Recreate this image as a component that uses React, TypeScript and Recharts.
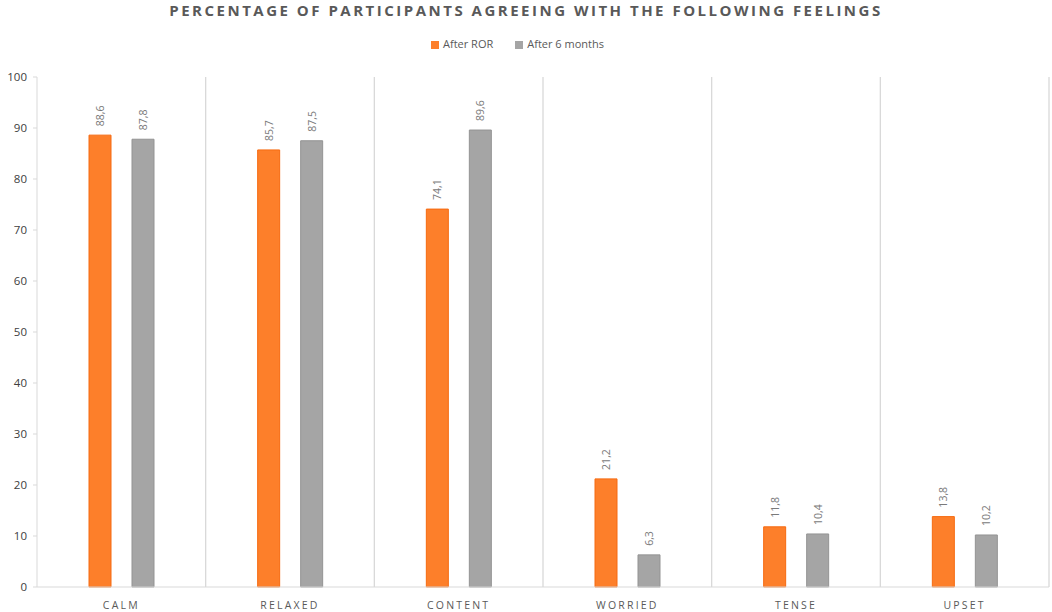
import {
  BarChart,
  Bar,
  XAxis,
  YAxis,
  Legend,
  LabelList,
  ReferenceLine,
} from "recharts";

const feelings = ["CALM", "RELAXED", "CONTENT", "WORRIED", "TENSE", "UPSET"];
const afterRor = [88.6, 85.7, 74.1, 21.2, 11.8, 13.8];
const afterSixMonths = [87.8, 87.5, 89.6, 6.3, 10.4, 10.2];
const yTicks = [0, 10, 20, 30, 40, 50, 60, 70, 80, 90, 100];

const data = feelings.map((name, i) => ({
  name,
  s1: afterRor[i],
  s2: afterSixMonths[i],
}));

const FONT = "'Open Sans', sans-serif";
const TEXT = "#595959";
const GRID = "#d9d9d9";

const fmt = (v: number) => v.toFixed(1).replace(".", ",");

function RotatedLabel(props: any) {
  const { x, y, width, value } = props;
  const cx = x + width / 2 + 4;
  const cy = y - 9;
  return (
    <text
      x={cx}
      y={cy}
      transform={`rotate(-90 ${cx} ${cy})`}
      textAnchor="start"
      fontSize={10.5}
      fontFamily={FONT}
      fill="#7a7a7a"
    >
      {fmt(value)}
    </text>
  );
}

function CategoryTick(props: any) {
  const { x, y, payload } = props;
  return (
    <text
      x={x}
      y={y + 14}
      textAnchor="middle"
      fontSize={10.5}
      fontFamily={FONT}
      fill={TEXT}
      letterSpacing={2.2}
    >
      {payload.value}
    </text>
  );
}

export default function App() {
  return (
    <div style={{ position: "absolute", left: 0, top: 0, width: 1052, height: 612, background: "#fff" }}>
      <div
        style={{
          position: "absolute",
          top: 0,
          left: 0,
          width: 1052,
          textAlign: "center",
          fontFamily: FONT,
          fontWeight: 700,
          fontSize: 15,
          letterSpacing: 2.5,
          color: TEXT,
        }}
      >
        PERCENTAGE OF PARTICIPANTS AGREEING WITH THE FOLLOWING FEELINGS
      </div>
      <BarChart
        width={1052}
        height={612}
        data={data}
        margin={{ top: 62, right: 3, left: 0, bottom: 0 }}
        barSize={22}
        barGap={21}
      >
        <XAxis
          dataKey="name"
          height={25}
          axisLine={{ stroke: GRID }}
          tickLine={false}
          tick={<CategoryTick />}
        />
        <YAxis
          width={37}
          domain={[0, 100]}
          ticks={yTicks}
          interval={0}
          axisLine={{ stroke: GRID }}
          tickLine={{ stroke: GRID }}
          tickSize={4}
          tickMargin={6}
          tick={{ fontSize: 11.5, fill: "#404040", fontFamily: FONT }}
        />
        {feelings.slice(1).map((f) => (
          <ReferenceLine key={f} x={f} position="start" stroke={GRID} strokeWidth={1.3} />
        ))}
        <ReferenceLine x={feelings[feelings.length - 1]} position="end" stroke={GRID} strokeWidth={1.3} />
        <Legend
          verticalAlign="top"
          align="center"
          iconType="square"
          iconSize={8}
          itemSorter="dataKey"
          wrapperStyle={{ position: "absolute", top: 36, left: 4, fontFamily: FONT, fontSize: 11 }}
          formatter={(v: string) => <span style={{ color: TEXT, marginRight: 12 }}>{v}</span>}
        />
        <Bar
          dataKey="s1"
          name="After ROR"
          fill="#fd7f2a"
          stroke="#f66a10"
          strokeWidth={1}
          isAnimationActive={false}
        >
          <LabelList dataKey="s1" content={<RotatedLabel />} />
        </Bar>
        <Bar
          dataKey="s2"
          name="After 6 months"
          fill="#a5a5a5"
          stroke="#939393"
          strokeWidth={1}
          isAnimationActive={false}
        >
          <LabelList dataKey="s2" content={<RotatedLabel />} />
        </Bar>
      </BarChart>
    </div>
  );
}
